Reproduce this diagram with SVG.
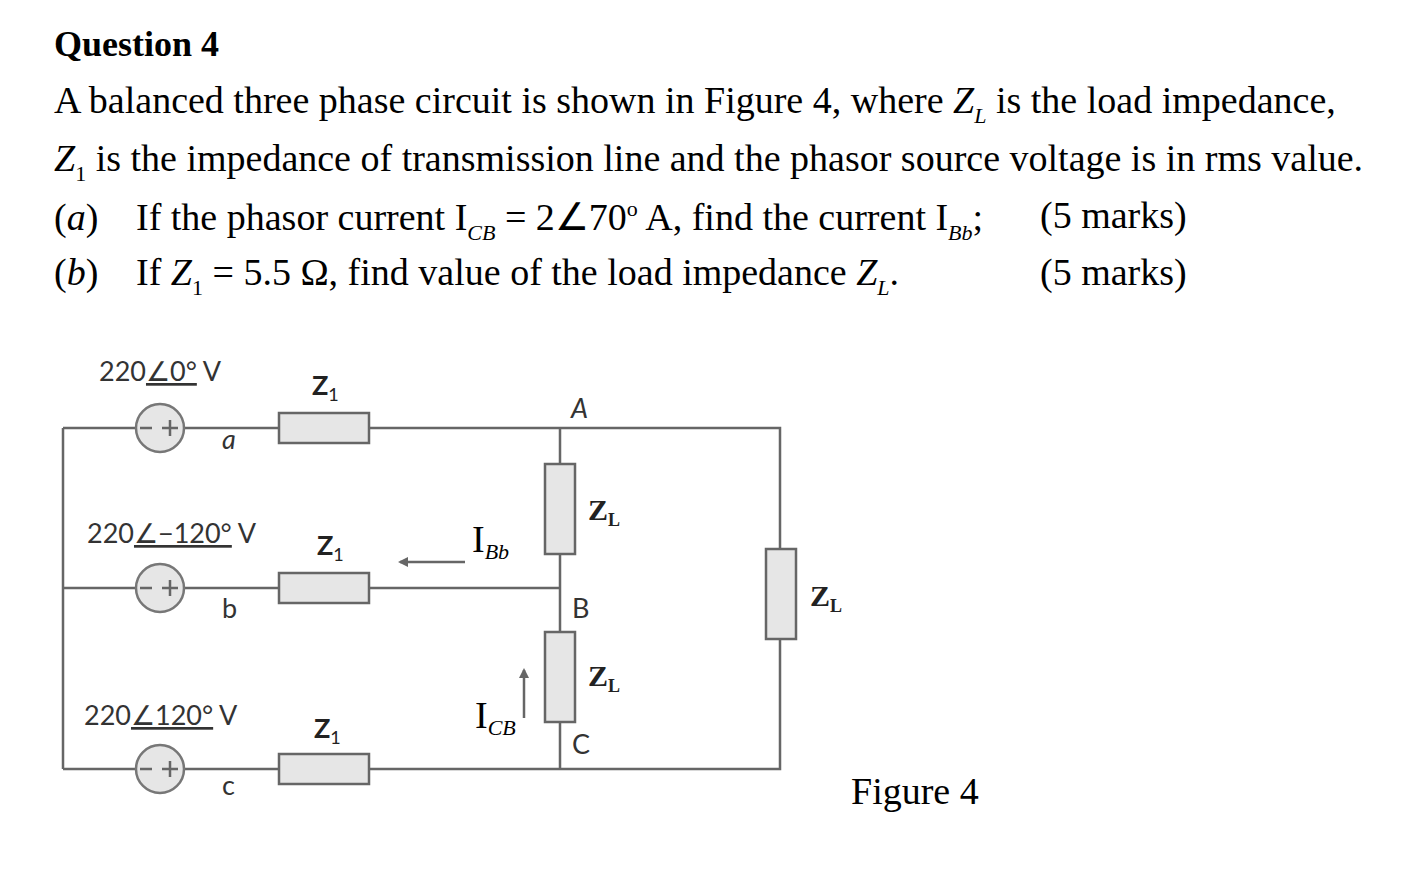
<svg xmlns="http://www.w3.org/2000/svg" width="1424" height="888" viewBox="0 0 1424 888">
<style>
.t{font-family:"Liberation Serif",serif;font-size:38px;fill:#000}
.c{font-family:"Lato","Open Sans",sans-serif;font-size:27px;fill:#333}
.w{stroke:#666;stroke-width:2.5;fill:none}
.r{fill:#e6e6e6;stroke:#666;stroke-width:2.5}
.s{fill:#e6e6e6;stroke:#777;stroke-width:2.5}
.zl{font-family:"Liberation Serif",serif;font-weight:bold;font-size:30px;fill:#222}
.z1{font-family:"Lato","Open Sans",sans-serif;font-weight:bold;font-size:27px;fill:#222}
</style>
<defs><marker id="ah" markerWidth="10" markerHeight="10" refX="8" refY="5" orient="auto" markerUnits="userSpaceOnUse"><path d="M0,0 L10,5 L0,10 Z" fill="#666"/></marker></defs>
<rect width="1424" height="888" fill="#fff"/>
<text x="54" y="56" class="t" style="font-weight:bold;font-size:36px">Question 4</text>
<text x="54" y="113" class="t">A balanced three phase circuit is shown in Figure 4, where <tspan font-style="italic">Z</tspan><tspan font-style="italic" font-size="22" dy="10">L</tspan><tspan dy="-10"> is the load impedance,</tspan></text>
<text x="54" y="171" class="t"><tspan font-style="italic">Z</tspan><tspan font-size="22" dy="10">1</tspan><tspan dy="-10"> is the impedance of transmission line and the phasor source voltage is in rms value.</tspan></text>
<text x="54" y="230" class="t">(<tspan font-style="italic">a</tspan>)</text>
<text x="136" y="230" class="t">If the phasor current I<tspan font-style="italic" font-size="22" dy="10">CB</tspan><tspan dy="-10"> = 2∠70</tspan><tspan font-size="22" dy="-14">o</tspan><tspan dy="14"> A, find the current I</tspan><tspan font-style="italic" font-size="22" dy="10">Bb</tspan><tspan dy="-10">;</tspan></text>
<text x="1040" y="228" class="t">(5 marks)</text>
<text x="54" y="285" class="t">(<tspan font-style="italic">b</tspan>)</text>
<text x="136" y="285" class="t">If <tspan font-style="italic">Z</tspan><tspan font-size="22" dy="10">1</tspan><tspan dy="-10"> = 5.5 Ω, find value of the load impedance </tspan><tspan font-style="italic">Z</tspan><tspan font-style="italic" font-size="22" dy="10">L</tspan><tspan dy="-10">.</tspan></text>
<text x="1040" y="285" class="t">(5 marks)</text>
<g id="connectors">
<path class="w" d="M63,428 V769 M63,428 H780 V769 H63 M63,588 H560 M560,428 V769"/>
<line class="w" x1="465" y1="562" x2="400" y2="562" marker-end="url(#ah)"/>
<line class="w" x1="524" y1="718" x2="524" y2="670" marker-end="url(#ah)"/>
</g>
<g id="src-a"><circle cx="160" cy="428" r="24" class="s"/><path class="w" d="M140,428 H152 M162,428 H178 M170,420 V436" stroke-width="2"/></g>
<g id="src-b"><circle cx="160" cy="588" r="24" class="s"/><path class="w" d="M140,588 H152 M162,588 H178 M170,580 V596" stroke-width="2"/></g>
<g id="src-c"><circle cx="160" cy="769" r="24" class="s"/><path class="w" d="M140,769 H152 M162,769 H178 M170,761 V777" stroke-width="2"/></g>
<g id="z1a"><rect x="279" y="413" width="90" height="30" class="r"/></g>
<g id="z1b"><rect x="279" y="573" width="90" height="30" class="r"/></g>
<g id="z1c"><rect x="279" y="754" width="90" height="30" class="r"/></g>
<g id="zlab"><rect x="545" y="464" width="30" height="90" class="r"/></g>
<g id="zlbc"><rect x="545" y="632" width="30" height="90" class="r"/></g>
<g id="zlca"><rect x="766" y="549" width="30" height="90" class="r"/></g>
<g id="labels">
<text x="99" y="381" class="c">220<tspan text-decoration="underline">∠0°</tspan> V</text>
<text x="87" y="543" class="c">220<tspan text-decoration="underline">∠−120°</tspan> V</text>
<text x="84" y="725" class="c">220<tspan text-decoration="underline">∠120°</tspan> V</text>
<text x="222" y="449" class="c" font-style="italic">a</text>
<text x="222" y="618" class="c">b</text>
<text x="222" y="795" class="c">c</text>
<text x="312" y="395" class="z1">Z<tspan font-size="18" font-weight="normal" dy="6">1</tspan></text>
<text x="317" y="555" class="z1">Z<tspan font-size="18" font-weight="normal" dy="6">1</tspan></text>
<text x="314" y="738" class="z1">Z<tspan font-size="18" font-weight="normal" dy="6">1</tspan></text>
<text x="571" y="418" class="c" font-style="italic">A</text>
<text x="572" y="618" class="c">B</text>
<text x="572" y="754" class="c">C</text>
<text x="588" y="520" class="zl">Z<tspan font-size="18" dy="6">L</tspan></text>
<text x="588" y="686" class="zl">Z<tspan font-size="18" dy="6">L</tspan></text>
<text x="810" y="606" class="zl">Z<tspan font-size="18" dy="6">L</tspan></text>
<text x="472" y="552" class="t" font-size="34">I<tspan font-style="italic" font-size="22" dy="7">Bb</tspan></text>
<text x="475" y="728" class="t" font-size="34">I<tspan font-style="italic" font-size="22" dy="7">CB</tspan></text>
<text x="851" y="804" class="t" font-size="36">Figure 4</text>
</g>
</svg>
